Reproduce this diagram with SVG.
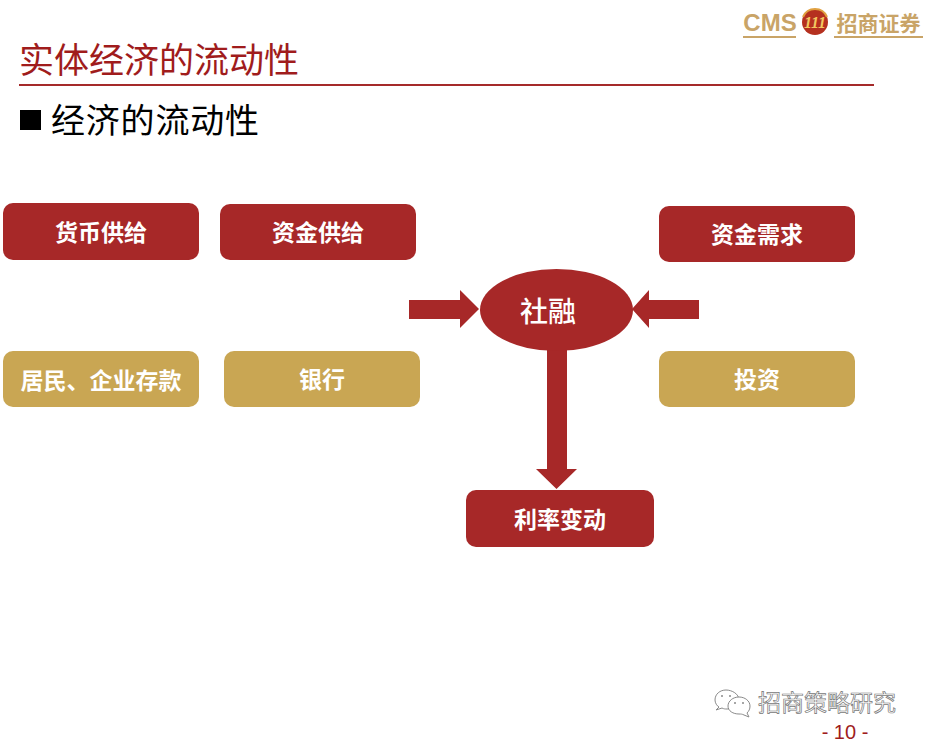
<svg xmlns="http://www.w3.org/2000/svg" width="925" height="743" viewBox="0 0 925 743">
<style>
text{font-family:"Noto Sans CJK SC","Liberation Sans",sans-serif;text-anchor:middle}
.box{stroke:none}
.red{fill:#a72828}
.gold{fill:#c9a653}
.lbl{fill:#fff;font-size:23px;font-weight:700}
.arrow{fill:#a72828}
.logo{fill:#c9a467}
.wm{fill:#fff;stroke:#8a8a8a;stroke-width:1}
.dot{fill:#8a8a8a}
</style>
<rect width="925" height="743" fill="#fff"/>
<g id="logo">
<text x="770" y="31" class="logo" style="font-family:'Liberation Sans',sans-serif;font-size:24px;font-weight:700">CMS</text>
<rect x="743" y="36" width="53" height="2" class="logo"/>
<circle cx="815" cy="22" r="13" fill="#b5301f"/>
<path d="M803 17a13 13 0 0 1 24 0" fill="none" stroke="#e0a040" stroke-width="2"/>
<text x="815" y="28" style="font-family:'Liberation Serif',serif;font-size:16px;font-weight:700;font-style:italic" fill="#f3c860">111</text>
<text x="878.500" y="31" class="logo" style="font-size:21px;font-weight:700">招商证券</text>
<rect x="834" y="36" width="89" height="2" class="logo"/>
</g>
<g id="title">
<text x="159" y="73" fill="#a01c1c" style="font-size:35px" textLength="280">实体经济的流动性</text>
<rect x="19" y="84" width="855" height="2" fill="#a52a2a"/>
</g>
<g id="subtitle">
<rect x="20" y="110" width="21" height="20" fill="#000"/>
<text x="155" y="133" fill="#000" style="font-size:34px" textLength="208">经济的流动性</text>
</g>
<g id="connectors">
<polygon class="arrow" points="409,300 460,300 460,290 479,309 460,328 460,319 409,319"/>
<polygon class="arrow" points="699,300 649,300 649,290 632,309 649,328 649,319 699,319"/>
<polygon class="arrow" points="547,345 567,345 567,469 577,469 556.500,489 536,469 547,469"/>
</g>
<g id="n1"><rect class="box red" x="3" y="203" width="196" height="57" rx="10"/><text class="lbl" x="101" y="241">货币供给</text></g>
<g id="n2"><rect class="box red" x="220" y="204" width="196" height="56" rx="10"/><text class="lbl" x="318" y="241">资金供给</text></g>
<g id="n3"><rect class="box red" x="659" y="206" width="196" height="56" rx="10"/><text class="lbl" x="757" y="243">资金需求</text></g>
<g id="n4"><rect class="box gold" x="3" y="351" width="196" height="56" rx="10"/><text class="lbl" x="101" y="389">居民、企业存款</text></g>
<g id="n5"><rect class="box gold" x="224" y="351" width="196" height="56" rx="10"/><text class="lbl" x="322" y="388">银行</text></g>
<g id="n6"><rect class="box gold" x="659" y="351" width="196" height="56" rx="10"/><text class="lbl" x="757" y="388">投资</text></g>
<g id="n7"><ellipse class="red" cx="556.500" cy="310" rx="76.500" ry="41"/><text x="548" y="322" fill="#fff" style="font-size:28px;font-weight:500">社融</text></g>
<g id="n8"><rect class="box red" x="466" y="490" width="188" height="57" rx="10"/><text class="lbl" x="560" y="528">利率变动</text></g>
<g id="watermark">
<path class="wm" d="M726 690c-6 0-11 4-11 10 0 3 2 6 4 7l-3 3 6-2c2 1 3 1 5 1 6 0 12-4 12-9 0-6-7-10-13-10z"/>
<path class="wm" d="M739 697c-6 0-11 4-11 9 0 5 5 8 11 8 2 0 3 0 5 1l5 2-2-4c2-2 3-4 3-7 0-5-5-9-11-9z"/>
<circle class="dot" cx="722" cy="696" r="1"/><circle class="dot" cx="730" cy="696" r="1"/>
<circle class="dot" cx="735" cy="703" r="1"/><circle class="dot" cx="743" cy="703" r="1"/>
<text x="827" y="711" fill="#fff" stroke="#777" stroke-width=".7" style="font-size:23px" textLength="138">招商策略研究</text>
</g>
<text id="page" x="845" y="739" fill="#a01c1c" style="font-family:'Liberation Sans',sans-serif;font-size:20px">- 10 -</text>
</svg>
